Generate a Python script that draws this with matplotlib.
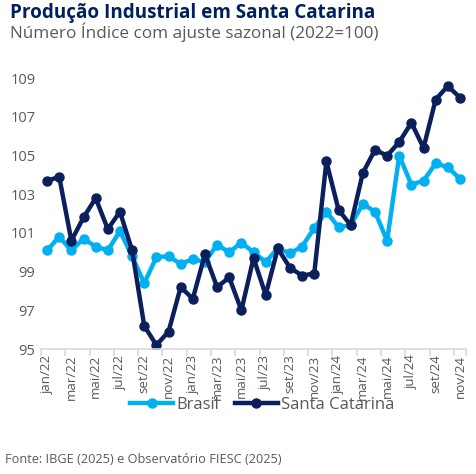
import numpy as np
import matplotlib.pyplot as plt

plt.rcParams['font.family'] = ['Open Sans', 'DejaVu Sans']

# monthly labels jan/22 .. nov/24
meses = ['jan', 'fev', 'mar', 'abr', 'mai', 'jun', 'jul', 'ago', 'set', 'out', 'nov', 'dez']
periodos = [f'{m}/{a}' for a in ['22', '23', '24'] for m in meses][:35]

brasil = [100.1, 100.8, 100.1, 100.7, 100.3, 100.1, 101.1, 99.8, 98.4, 99.75,
          99.8, 99.4, 99.65, 99.5, 100.4, 100.0, 100.5, 100.0, 99.5, 100.2,
          99.95, 100.3, 101.25, 102.1, 101.3, 101.4, 102.5, 102.1, 100.6, 105.0,
          103.5, 103.7, 104.6, 104.4, 103.8]

santa_catarina = [103.7, 103.9, 100.6, 101.8, 102.8, 101.2, 102.1, 100.1, 96.2, 95.2,
                  95.9, 98.2, 97.6, 99.9, 98.2, 98.7, 97.0, 99.7, 97.8, 100.2,
                  99.2, 98.8, 98.9, 104.7, 102.2, 101.4, 104.1, 105.3, 105.0, 105.7,
                  106.7, 105.4, 107.9, 108.6, 108.0]

azul_claro = '#00b0f0'
azul_escuro = '#0b1f5c'
cinza = '#595959'

fig = plt.figure(figsize=(4.77, 4.74), dpi=100)
ax = fig.add_axes([0.086, 0.2637, 0.891, 0.612])

x = np.arange(len(periodos))
ax.plot(x, brasil, color=azul_claro, lw=3.2, marker='o', ms=6.5, label='Brasil')
ax.plot(x, santa_catarina, color=azul_escuro, lw=3.2, marker='o', ms=6.5, label='Santa Catarina')

ax.set_xlim(-0.5, len(periodos) - 0.5)
ax.set_ylim(95, 110)
ax.set_yticks(np.arange(95, 110, 2))
ax.tick_params(axis='y', length=0, labelsize=10.5, labelcolor=cinza, pad=4)

ax.set_xticks(x[::2])
ax.set_xticklabels(periodos[::2], rotation=90)
ax.set_xticks(np.append(np.arange(-0.5, len(periodos), 2), len(periodos) - 0.5), minor=True)
ax.tick_params(axis='x', which='major', length=0, labelsize=9.6, labelcolor=cinza, pad=4)
ax.tick_params(axis='x', which='minor', length=5, color='#d9d9d9', width=1.2)

for s in ['top', 'right', 'left']:
    ax.spines[s].set_visible(False)
ax.spines['bottom'].set_color('#d9d9d9')
ax.spines['bottom'].set_linewidth(1.2)

leg = fig.legend(loc='center', bbox_to_anchor=(0.55, 0.145), ncol=2, frameon=False,
                 fontsize=12, handlelength=2.6, handletextpad=0.2, columnspacing=0.9,
                 labelcolor=cinza)

fig.text(0.021, 0.973, 'Produção Industrial em Santa Catarina', fontsize=13.6,
         fontweight='bold', color='#002060', va='center')
fig.text(0.021, 0.933, 'Número Índice com ajuste sazonal (2022=100)', fontsize=12.3,
         color=cinza, va='center')
fig.text(0.01, 0.030, 'Fonte: IBGE (2025) e Observatório FIESC (2025)', fontsize=9.2,
         color=cinza, va='center')

fig.savefig('out.png', dpi=100)
